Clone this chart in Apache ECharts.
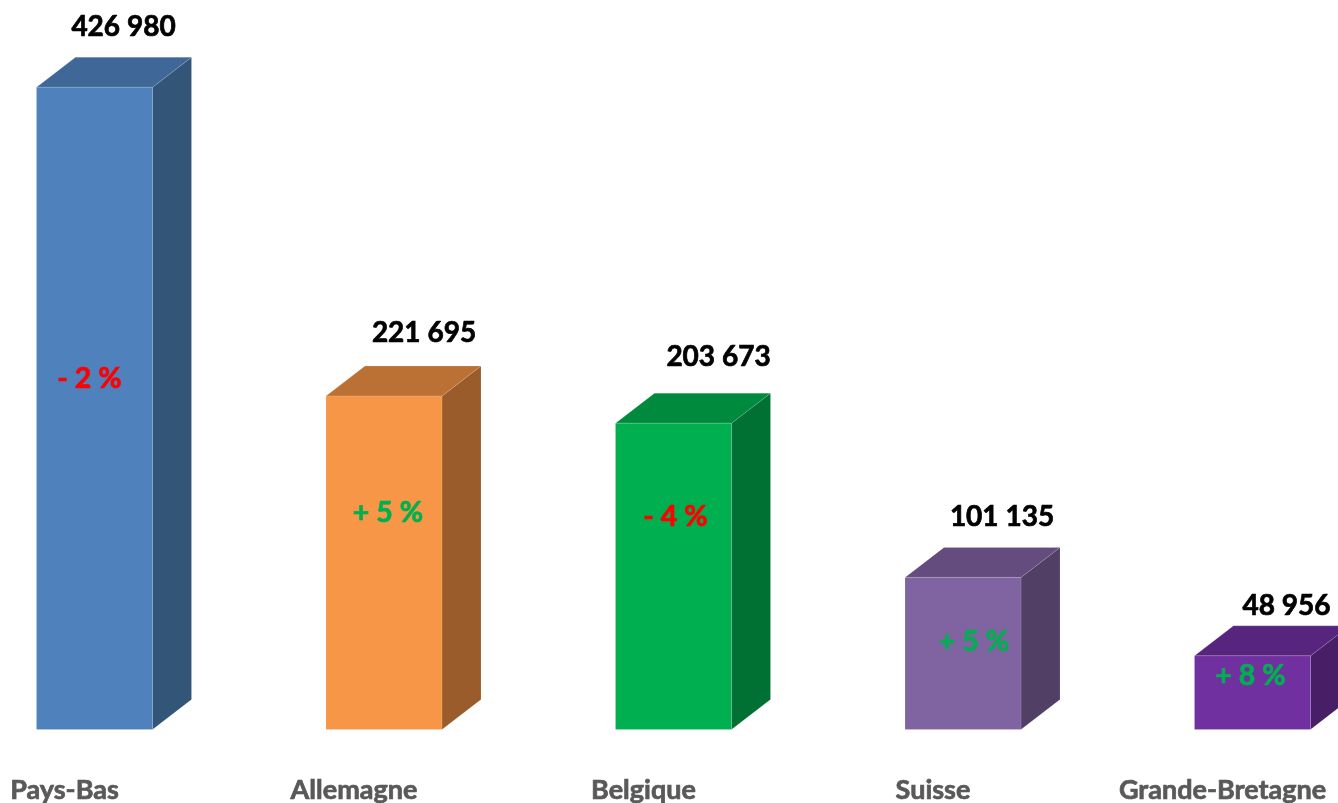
<!DOCTYPE html>
<html>
<head>
<meta charset="utf-8">
<style>html,body{margin:0;padding:0;background:#fff;overflow:hidden}#c{width:1338px;height:803px}</style>
<script src="https://cdn.jsdelivr.net/npm/echarts@6/dist/echarts.min.js"></script>
</head>
<body>
<div id="c"></div>
<script>
const categories = ['Pays-Bas', 'Allemagne', 'Belgique', 'Suisse', 'Grande-Bretagne'];
const values = [426980, 221695, 203673, 101135, 48956];
const valueLabels = ['426 980', '221 695', '203 673', '101 135', '48 956'];
const changeLabels = ['- 2 %', '+ 5 %', '- 4 %', '+ 5 %', '+ 8 %'];
const frontColors = ['#4F81BD', '#F79646', '#00B050', '#8064A2', '#7030A0'];
const topColors = ['#3F6797', '#BC7134', '#008A3E', '#644C7E', '#58257E'];
const sideColors = ['#335578', '#995C2A', '#007033', '#523F66', '#481F67'];
const changeColors = ['#FF0000', '#00B050', '#FF0000', '#00B050', '#00B050'];

// layout constants (pixels)
const BAR_W = 116, DEPTH_X = 39, DEPTH_Y = 30, BAR_SHIFT = 30;
const valueOffset = [[29, -60], [40, -63.5], [45, -66.5], [39, -60.5], [34, -49.5]];
const changeOffset = [[-5, -350.5], [4, -216.5], [2, -212.5], [11, -87.5], [-2, -53.5]];
const FONT = 'Lato, "Open Sans", sans-serif';

function renderItem(params, api) {
  const i = api.value(0);
  const top = api.coord([i, api.value(1)]);
  const base = api.coord([i, 0]);
  const cx = top[0] + BAR_SHIFT;
  const l = cx - BAR_W / 2, r = cx + BAR_W / 2;
  const t = top[1], b = base[1];
  const edge = { stroke: 'rgba(255,255,255,0.12)', lineWidth: 1 };
  const face = (pts, fill) => ({
    type: 'polygon', shape: { points: pts }, style: Object.assign({ fill }, edge)
  });
  const text = (s, x, y, fill, size) => ({
    type: 'text', z2: 10,
    style: {
      text: s, x, y, fill, stroke: fill, lineWidth: 0.7,
      font: 'bold ' + size + 'px ' + FONT, align: 'center', verticalAlign: 'middle'
    }
  });
  return {
    type: 'group',
    children: [
      face([[r, t], [r + DEPTH_X, t - DEPTH_Y], [r + DEPTH_X, b - DEPTH_Y], [r, b]], sideColors[i]),
      face([[l, t], [l + DEPTH_X, t - DEPTH_Y], [r + DEPTH_X, t - DEPTH_Y], [r, t]], topColors[i]),
      face([[l, t], [r, t], [r, b], [l, b]], frontColors[i]),
      text(valueLabels[i], cx + valueOffset[i][0], t + valueOffset[i][1], '#000000', 28),
      text(changeLabels[i], cx + changeOffset[i][0], b + changeOffset[i][1], changeColors[i], 28.5)
    ]
  };
}

const chart = echarts.init(document.getElementById('c'), null, { renderer: 'canvas' });
chart.setOption({
  animation: false,
  backgroundColor: '#ffffff',
  grid: { left: 64.5, right: 115.5, top: 0, bottom: 73.5, containLabel: false, outerBoundsMode: 'none' },
  xAxis: {
    type: 'category',
    boundaryGap: false,
    data: categories,
    axisLine: { show: false },
    axisTick: { show: false },
    splitLine: { show: false },
    axisLabel: {
      interval: 0, margin: 47.5, color: '#595959', fontFamily: FONT, fontWeight: 'bold', fontSize: 27,
      textBorderColor: '#595959', textBorderWidth: 0.7, showMinLabel: true, showMaxLabel: true
    }
  },
  yAxis: { type: 'value', min: 0, max: 485000, show: false, splitLine: { show: false } },
  series: [{
    type: 'custom',
    renderItem,
    clip: false,
    encode: { x: 0, y: 1 },
    data: values.map((v, i) => [i, v])
  }]
});
</script>
</body>
</html>
